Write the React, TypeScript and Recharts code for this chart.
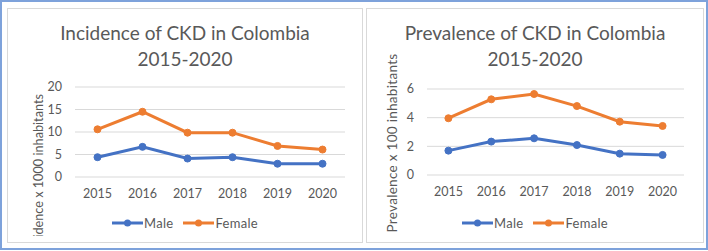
import { LineChart, Line, XAxis, YAxis, CartesianGrid } from "recharts"

const years = ["2015", "2016", "2017", "2018", "2019", "2020"]

const incidenceMale = [4.4, 6.7, 4.1, 4.4, 2.95, 2.95]
const incidenceFemale = [10.6, 14.5, 9.85, 9.85, 6.9, 6.1]
const incidenceTicks = [0, 5, 10, 15, 20]

const prevalenceMale = [1.7, 2.33, 2.56, 2.09, 1.49, 1.4]
const prevalenceFemale = [3.96, 5.28, 5.65, 4.81, 3.72, 3.42]
const prevalenceTicks = [0, 2, 4, 6]

const BLUE = "#4472c4"
const ORANGE = "#ed7d31"
const TEXT = "#595959"
const FONT = "Lato, 'Liberation Sans', sans-serif"
const X_AXIS_HEIGHT = 30

function buildRows(male: number[], female: number[]) {
  return years.map((year, i) => ({ year, male: male[i], female: female[i] }))
}

function LegendItem({ color, label }: { color: string; label: string }) {
  return (
    <span style={{ display: "inline-flex", alignItems: "center" }}>
      <svg width={31} height={10}>
        <line x1={0} y1={5} x2={31} y2={5} stroke={color} strokeWidth={3} />
        <circle cx={15.5} cy={5} r={3.5} fill={color} />
      </svg>
      <span style={{ marginLeft: 1, letterSpacing: 0.3 }}>{label}</span>
    </span>
  )
}

interface PanelProps {
  left: number
  width: number
  titleLines: string[]
  yLabel: string
  yLabelX: number
  yLabelY: number
  yLabelAnchor: "middle" | "end"
  yLabelSize: number
  yLabelSpacing: number
  clipBottom: number
  male: number[]
  female: number[]
  ticks: number[]
  plotTop: number
  plotHeight: number
  plotRight: number
  yAxisWidth: number
  tickGap: number
}

const PANEL_TOP = 8
const PANEL_HEIGHT = 235

function Panel(p: PanelProps) {
  const rows = buildRows(p.male, p.female)
  const plotWidth = p.width - p.plotRight - p.yAxisWidth
  const pad = plotWidth / 12
  const domainMax = p.ticks[p.ticks.length - 1]
  const margin = {
    top: p.plotTop,
    right: p.plotRight,
    left: 0,
    bottom: PANEL_HEIGHT - p.plotTop - p.plotHeight - X_AXIS_HEIGHT,
  }
  return (
    <div
      style={{
        position: "absolute",
        left: p.left,
        top: PANEL_TOP,
        width: p.width,
        height: PANEL_HEIGHT,
        border: "1px solid #d9d9d9",
        boxSizing: "border-box",
        background: "#fff",
        overflow: "hidden",
      }}
    >
      <div style={{ position: "absolute", left: -1, top: -1 }}>
        <LineChart width={p.width} height={PANEL_HEIGHT} data={rows} margin={margin}>
          <CartesianGrid vertical={false} stroke="#d9d9d9" strokeWidth={1} />
          <XAxis
            dataKey="year"
            height={X_AXIS_HEIGHT}
            axisLine={false}
            tickLine={false}
            tickSize={0}
            tickMargin={12}
            interval={0}
            padding={{ left: pad, right: pad }}
            tick={{ fontSize: 12.5, fill: TEXT, fontFamily: FONT }}
          />
          <YAxis
            width={p.yAxisWidth}
            domain={[0, domainMax]}
            ticks={p.ticks}
            interval={0}
            axisLine={false}
            tickLine={false}
            tickSize={0}
            tickMargin={p.tickGap}
            tick={{ fontSize: 12.5, fill: TEXT, fontFamily: FONT }}
          />
          <Line
            dataKey="male"
            stroke={BLUE}
            strokeWidth={3}
            dot={{ r: 3.5, fill: BLUE, stroke: BLUE, strokeWidth: 1 }}
            isAnimationActive={false}
          />
          <Line
            dataKey="female"
            stroke={ORANGE}
            strokeWidth={3}
            dot={{ r: 3.5, fill: ORANGE, stroke: ORANGE, strokeWidth: 1 }}
            isAnimationActive={false}
          />
        </LineChart>
      </div>
      <svg
        width={p.width}
        height={PANEL_HEIGHT}
        style={{ position: "absolute", left: -1, top: -1, pointerEvents: "none" }}
      >
        <defs>
          <clipPath id={`clip-${p.left}`}>
            <rect x={0} y={0} width={p.width} height={p.clipBottom} />
          </clipPath>
        </defs>
        <g clipPath={`url(#clip-${p.left})`}>
          <text
            x={p.yLabelX}
            y={p.yLabelY}
            transform={`rotate(-90 ${p.yLabelX} ${p.yLabelY})`}
            textAnchor={p.yLabelAnchor}
            dominantBaseline="central"
            fontSize={p.yLabelSize}
            letterSpacing={p.yLabelSpacing}
            fill={TEXT}
            fontFamily={FONT}
          >
            {p.yLabel}
          </text>
        </g>
      </svg>
      <div
        style={{
          position: "absolute",
          left: 0,
          top: 11,
          width: "100%",
          textAlign: "center",
          fontFamily: FONT,
          fontSize: 19,
          lineHeight: "26px",
          color: TEXT,
        }}
      >
        {p.titleLines.map((t) => (
          <div key={t}>{t}</div>
        ))}
      </div>
      <div
        style={{
          position: "absolute",
          left: 0,
          top: 206,
          width: "100%",
          display: "flex",
          justifyContent: "center",
          gap: 10,
          fontFamily: FONT,
          fontSize: 13,
          color: TEXT,
        }}
      >
        <LegendItem color={BLUE} label="Male" />
        <LegendItem color={ORANGE} label="Female" />
      </div>
    </div>
  )
}

export default function App() {
  return (
    <div
      style={{
        position: "absolute",
        left: 0,
        top: 0,
        width: 708,
        height: 251,
        background: "#fff",
      }}
    >
      <div
        style={{
          position: "absolute",
          left: 0,
          top: 0,
          width: 708,
          height: 250,
          border: "2px solid #7ea2db",
          boxSizing: "border-box",
        }}
      />
      <Panel
        left={7}
        width={356}
        titleLines={["Incidence of CKD in Colombia", "2015-2020"]}
        yLabel="Incidence x 1000 inhabitants"
        yLabelX={31}
        yLabelY={86}
        yLabelAnchor="end"
        yLabelSize={12.7}
        yLabelSpacing={0}
        clipBottom={228}
        male={incidenceMale}
        female={incidenceFemale}
        ticks={incidenceTicks}
        plotTop={79}
        plotHeight={90}
        plotRight={18}
        yAxisWidth={68}
        tickGap={13}
      />
      <Panel
        left={366}
        width={338}
        titleLines={["Prevalence of CKD in Colombia", "2015-2020"]}
        yLabel="Prevalence x 100 inhabitants"
        yLabelX={26}
        yLabelY={135}
        yLabelAnchor="middle"
        yLabelSize={13.5}
        yLabelSpacing={0.3}
        clipBottom={235}
        male={prevalenceMale}
        female={prevalenceFemale}
        ticks={prevalenceTicks}
        plotTop={81}
        plotHeight={86}
        plotRight={20}
        yAxisWidth={61}
        tickGap={13}
      />
    </div>
  )
}
